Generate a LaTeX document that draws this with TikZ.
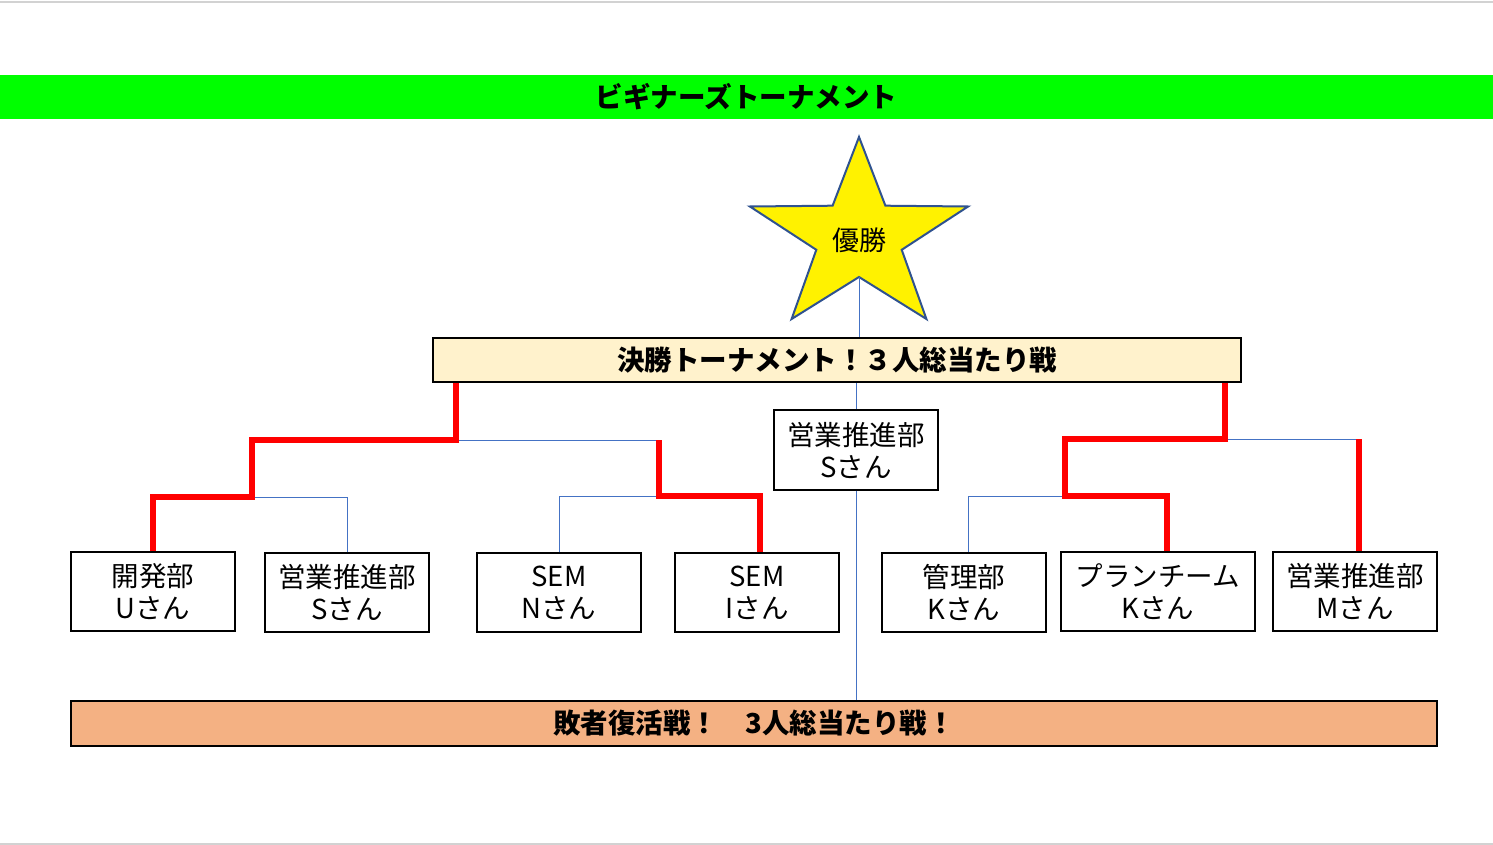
\documentclass[tikz,border=0pt]{standalone}
\usepackage{fontspec}
\setmainfont{Noto Sans CJK JP}
\begin{document}
\begin{tikzpicture}[x=1pt,y=-1pt,
  pbox/.style={draw=black,line width=1.2pt,fill=white,minimum width=164,minimum height=79,inner sep=0pt,align=center,font=\fontsize{27.5}{32}\selectfont},
  bar/.style={draw=black,line width=1.5pt,inner sep=0pt,font=\bfseries\fontsize{27.5}{30}\selectfont},
  win/.style={draw=red,line width=6pt},
  lose/.style={draw=blueline,line width=1pt}]
\definecolor{blueline}{HTML}{4472C4}
\definecolor{startrim}{HTML}{2F528F}
\definecolor{finfill}{HTML}{FFF2CC}
\definecolor{losefill}{HTML}{F4B183}
\useasboundingbox (0,0) rectangle (1493,845);
\fill[white] (0,0) rectangle (1493,845);
\draw[gray!35,line width=2pt] (0,2) -- (1493,2);
\draw[gray!35,line width=2pt] (0,844) -- (1493,844);
% title bar
\node[bar,draw=none,fill=green,minimum width=1493,minimum height=44] (title) at (746.5,97) {ビギナーズトーナメント};
% star
\draw[fill=yellow,draw=startrim,line width=2pt,line join=miter]
  (859,137) -- (885.4,205.7) -- (968.1,206.5) -- (901.7,249.8) -- (926.4,319)
  -- (859,277) -- (791.6,319) -- (816.3,249.8) -- (749.9,206.5) -- (832.6,205.7) -- cycle;
\node[font=\fontsize{27}{30}\selectfont] (champ) at (859,240) {優勝};
\coordinate (starbot) at (859,277);
% final box
\node[bar,fill=finfill,minimum width=808,minimum height=44] (fin) at (837,360) {決勝トーナメント！３人総当たり戦};
% loser bar
\node[bar,fill=losefill,minimum width=1366,minimum height=45] (loser) at (754,723.5) {敗者復活戦！　3人総当たり戦！};
% center box
\node[pbox,minimum height=80] (sb) at (856,450) {営業推進部\\Sさん};
% bottom boxes
\node[pbox] (b1) at (153,591.5) {開発部\\Uさん};
\node[pbox] (b2) at (347,592.5) {営業推進部\\Sさん};
\node[pbox] (b3) at (559,592.5) {SEM\\Nさん};
\node[pbox] (b4) at (757,592.5) {SEM\\Iさん};
\node[pbox] (b5) at (964,592.5) {管理部\\Kさん};
\node[pbox,minimum width=194] (b6) at (1158,591.5) {プランチーム\\Kさん};
\node[pbox] (b7) at (1355,591.5) {営業推進部\\Mさん};
% connectors
\draw[lose] (starbot) -- (starbot |- fin.north);
\draw[lose] (sb.north) -- (sb.north |- fin.south);
\draw[lose] (sb.south) -- (sb.south |- loser.north);
\coordinate (j1) at (252,497);
\coordinate (j2) at (659,496);
\coordinate (s1) at (456,440);
\coordinate (j3) at (1065,496);
\coordinate (s2) at (1225,439);
\draw[lose] (b2.north) |- (j1);
\draw[lose] (b3.north) |- (j2);
\draw[lose] (j2 |- s1) -- (s1);
\draw[lose] ([xshift=4pt]b5.north) |- (j3);
\draw[lose] (s2) -- ([xshift=4pt]b7.north |- s2);
\draw[win] (b1.north) |- (j1) |- (s1) -- (s1 |- fin.south);
\draw[win] ([xshift=3pt]b4.north) |- (j2) -- (j2 |- s1);
\draw[win] ([xshift=9pt]b6.north) |- (j3) |- (s2) -- (s2 |- fin.south);
\draw[win] ([xshift=4pt]b7.north) -- ([xshift=4pt]b7.north |- s2);
\end{tikzpicture}
\end{document}
